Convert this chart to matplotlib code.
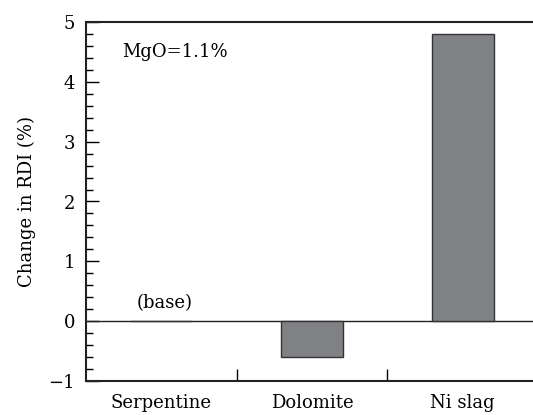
import matplotlib.pyplot as plt
from matplotlib.ticker import MultipleLocator, FixedLocator

plt.rcParams['font.family'] = ['DejaVu Serif']

materials = ["Serpentine", "Dolomite", "Ni slag"]
rdi_change = [0.0, -0.6, 4.8]
y_ticks = [-1, 0, 1, 2, 3, 4, 5]
y_tick_labels = ["\u22121", "0", "1", "2", "3", "4", "5"]

fs = 13

fig = plt.figure(figsize=(5.33, 4.15), dpi=100)
ax = fig.add_axes([86/533, 34/415, 1 - 86/533, (381 - 22)/415])

ax.bar(range(len(materials)), rdi_change, width=0.41,
       color="#808185", edgecolor="#333333", linewidth=1.0, zorder=3)
ax.axhline(0, color="#222222", linewidth=1.0, zorder=2)

ax.set_xlim(-0.5, 2.467)
ax.set_ylim(-1, 5)

# category labels without tick marks, separator ticks between them
ax.set_xticks(range(len(materials)))
ax.set_xticklabels(materials, fontsize=fs)
ax.tick_params(axis="x", which="major", length=0, pad=9)
ax.xaxis.set_minor_locator(FixedLocator([0.5, 1.5]))
ax.tick_params(axis="x", which="minor", direction="in", length=9, width=1.0)

ax.set_yticks(y_ticks)
ax.set_yticklabels(y_tick_labels)
ax.yaxis.set_minor_locator(MultipleLocator(0.2))
ax.tick_params(axis="y", which="major", direction="in", length=9, width=1.0,
               labelsize=fs, pad=8)
ax.tick_params(axis="y", which="minor", direction="in", length=5, width=1.0)
ax.set_ylabel("Change in RDI (%)", fontsize=fs, labelpad=9)

for side in ["left", "top", "bottom"]:
    ax.spines[side].set_linewidth(1.5)
    ax.spines[side].set_color("#222222")
ax.spines["right"].set_visible(False)

ax.text(0.08, 0.916, "MgO=1.1%", transform=ax.transAxes, fontsize=fs,
        va="center", ha="left")
ax.text(0.02, 0.15, "(base)", fontsize=fs, ha="center", va="bottom")

fig.savefig("out.png", dpi=100)
